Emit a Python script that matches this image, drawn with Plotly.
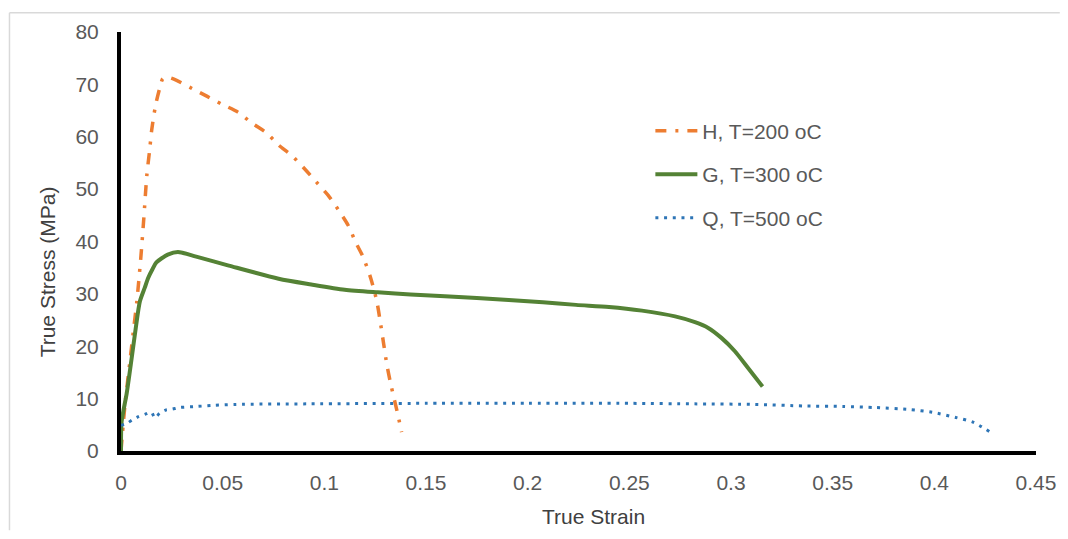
import plotly.graph_objects as go

# ---- data ----
h_strain = [0, 0.002, 0.0044, 0.0059, 0.0078, 0.0097, 0.0112, 0.0127, 0.0141, 0.0151, 0.017, 0.019, 0.0206,
            0.0235, 0.0271, 0.035, 0.0424, 0.0497, 0.0575, 0.0644, 0.0717, 0.0775, 0.084, 0.0907, 0.096, 0.1019,
            0.1068, 0.1117, 0.1156, 0.119, 0.1229, 0.1258, 0.1273, 0.1292, 0.1307, 0.1326, 0.136, 0.138]
h_stress = [0, 9, 17.2, 22.3, 28.6, 36.7, 44.3, 52.6, 57.5, 61.3, 66, 69.2, 71.1,
            71.3, 70.8, 69.2, 67.7, 66.2, 64.7, 62.6, 60.7, 58.4, 56.4, 53.7, 51.4, 48.8,
            46.1, 43.1, 39.7, 37.1, 32.9, 28.6, 25.2, 20.4, 16.6, 12.9, 7.2, 3.6]

g_strain = [0, 0.0003, 0.0028, 0.0052, 0.0073, 0.0093, 0.0117, 0.0133, 0.0156, 0.0174, 0.023, 0.028, 0.037,
            0.053, 0.0775, 0.0936, 0.11, 0.1263, 0.1424, 0.175, 0.2075, 0.2238, 0.24, 0.2562, 0.2725,
            0.2823, 0.2888, 0.2953, 0.3018, 0.3083, 0.3155]
g_stress = [0, 5.6, 11, 17.6, 23.6, 28.6, 31.2, 33.0, 34.8, 36.0, 37.5, 38.0, 37.1,
            35.4, 32.9, 31.8, 30.8, 30.3, 29.9, 29.2, 28.4, 27.9, 27.5, 26.8, 25.7,
            24.6, 23.5, 21.6, 19.1, 15.9, 12.3]

q_strain = [0, 0.003, 0.0054, 0.0083, 0.0117, 0.015, 0.0166, 0.019, 0.0219, 0.0253, 0.0288, 0.037, 0.045,
            0.0565, 0.092, 0.15, 0.2, 0.25, 0.282, 0.3115, 0.336, 0.355, 0.371, 0.388, 0.399, 0.4105,
            0.419, 0.4276]
q_stress = [4.9, 5.3, 5.9, 6.5, 7.0, 7.4, 6.3, 7.2, 7.8, 8.0, 8.3, 8.5, 8.7,
            8.9, 9.0, 9.1, 9.1, 9.1, 9.0, 8.9, 8.6, 8.5, 8.3, 7.9, 7.4, 6.4,
            5.5, 3.6]

names = ["H, T=200 oC", "G, T=300 oC", "Q, T=500 oC"]
x_ticks = [0, 0.05, 0.1, 0.15, 0.2, 0.25, 0.3, 0.35, 0.4, 0.45]
x_tick_text = ["0", "0.05", "0.1", "0.15", "0.2", "0.25", "0.3", "0.35", "0.4", "0.45"]
y_ticks = [0, 10, 20, 30, 40, 50, 60, 70, 80]

FONT = "Liberation Sans"
GRAY = "#595959"

fig = go.Figure()
fig.add_trace(go.Scatter(x=h_strain, y=h_stress, mode="lines", name=names[0], legend="legend",
                         line=dict(color="#ED7D31", width=3.5, dash="11px,9px,3px,9px", shape="spline", smoothing=0.7)))
fig.add_trace(go.Scatter(x=g_strain, y=g_stress, mode="lines", name=names[1], legend="legend2",
                         line=dict(color="#548235", width=4, shape="spline", smoothing=0.7)))
fig.add_trace(go.Scatter(x=q_strain, y=q_stress, mode="lines", name=names[2], legend="legend3",
                         line=dict(color="#2E75B6", width=3, dash="3px,5.7px", shape="spline", smoothing=0.7)))

# page body has an 8px margin: figure starts at window (8,8)
OFF = 8
W, H = 1068 - OFF, 539 - 2 * OFF
# plot area in window coordinates
PL, PR, PT, PB = 121, 1044, 28, 451
L, R, T, B = PL - OFF, W - (PR - OFF), PT - OFF, H - (PB - OFF)
pw, ph = PR - PL, PB - PT

def px(xw):
    return (xw - PL) / pw

def py(yw):
    return (PB - yw) / ph

leg_common = dict(xanchor="left", yanchor="middle", bgcolor="rgba(0,0,0,0)", itemwidth=42,
                  font=dict(family=FONT, size=21, color=GRAY))

fig.update_layout(
    width=W, height=H,
    margin=dict(l=L, r=R, t=T, b=B),
    paper_bgcolor="white", plot_bgcolor="white",
    font=dict(family=FONT, size=21, color=GRAY),
    showlegend=True,
    legend=dict(x=px(655), y=py(128), **leg_common),
    legend2=dict(x=px(655), y=py(172), **leg_common),
    legend3=dict(x=px(655), y=py(216), **leg_common),
    xaxis=dict(range=[0, 0.45], tickmode="array", tickvals=x_ticks, ticktext=x_tick_text,
               showgrid=False, zeroline=False, showline=True, linecolor="black", linewidth=4,
               ticks="", ticklabelstandoff=10, tickfont=dict(family=FONT, size=21, color=GRAY)),
    yaxis=dict(range=[0, 80], tickmode="array", tickvals=y_ticks,
               showgrid=False, zeroline=False, showline=True, linecolor="black", linewidth=4,
               ticks="", ticklabelstandoff=14, tickfont=dict(family=FONT, size=21, color=GRAY)),
    annotations=[
        dict(text="True Strain", xref="paper", yref="paper", x=px(598), y=py(517),
             xanchor="center", yanchor="middle", showarrow=False,
             font=dict(family=FONT, size=21, color="#404040")),
        dict(text="True Stress (MPa)", xref="paper", yref="paper", x=px(47), y=py(270),
             xanchor="center", yanchor="middle", showarrow=False, textangle=-90,
             font=dict(family=FONT, size=21, color="#404040")),
    ],
    shapes=[
        dict(type="line", xref="paper", yref="paper", x0=px(8.5), x1=px(1068), y0=py(8.5), y1=py(8.5),
             line=dict(color="#D9D9D9", width=1.5)),
        dict(type="line", xref="paper", yref="paper", x0=px(8.5), x1=px(8.5), y0=py(8.5), y1=py(531),
             line=dict(color="#D9D9D9", width=1.5)),
    ],
)

fig.write_html("out.html")
